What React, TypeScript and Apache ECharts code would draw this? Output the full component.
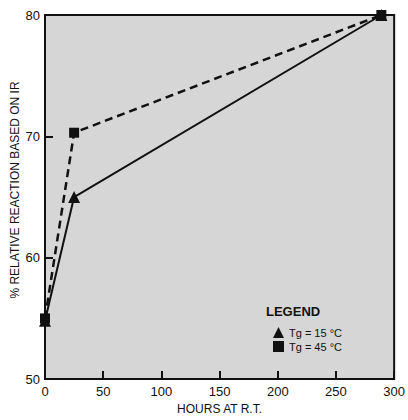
import React, { useEffect, useRef } from "react";
import * as echarts from "echarts";

const xTicks = [0, 50, 100, 150, 200, 250, 300];
const yTicks = [50, 60, 70, 80];
const hoursTg15 = [0, 25, 289];
const reactionTg15 = [54.8, 65, 80];
const hoursTg45 = [0, 25, 289];
const reactionTg45 = [55, 70.3, 80];
const seriesNames = ["Tg = 15 °C", "Tg = 45 °C"];

const FONT = "'Liberation Sans', Arial, sans-serif";

export default function App() {
  const ref = useRef<HTMLDivElement>(null);
  useEffect(() => {
    if (!ref.current) return;
    const chart = echarts.init(ref.current, null, { renderer: "svg" });
    chart.setOption({
      animation: false,
      backgroundColor: "#ffffff",
      textStyle: { fontFamily: FONT },
      grid: {
        left: 45,
        top: 15,
        right: 12,
        bottom: 31,
        show: true,
        backgroundColor: "#d6d6d6",
        borderColor: "#111",
        borderWidth: 2,
      },
      xAxis: {
        type: "value",
        min: xTicks[0],
        max: xTicks[xTicks.length - 1],
        interval: 50,
        name: "HOURS AT R.T.",
        nameLocation: "middle",
        nameGap: 21,
        nameTextStyle: { fontSize: 12, color: "#111", fontFamily: FONT },
        axisLine: { show: true, lineStyle: { color: "#111", width: 2 } },
        axisTick: { show: true, inside: true, length: 8, lineStyle: { color: "#111", width: 2 } },
        axisLabel: { fontSize: 13, color: "#111", margin: 6, fontFamily: FONT },
        splitLine: { show: false },
      },
      yAxis: {
        type: "value",
        min: yTicks[0],
        max: yTicks[yTicks.length - 1],
        interval: 10,
        axisLine: { show: true, lineStyle: { color: "#111", width: 2 } },
        axisTick: { show: true, inside: true, length: 8, lineStyle: { color: "#111", width: 2 } },
        axisLabel: { fontSize: 13, color: "#111", margin: 5, fontFamily: FONT },
        splitLine: { show: false },
      },
      legend: {
        orient: "vertical",
        left: 268,
        top: 322,
        itemWidth: 11,
        itemHeight: 11,
        itemGap: 3,
        textStyle: { fontSize: 11, color: "#111", fontFamily: FONT },
        data: [
          { name: seriesNames[0], icon: "triangle" },
          { name: seriesNames[1], icon: "rect" },
        ],
      },
      graphic: [
        {
          type: "text",
          left: 266,
          top: 305,
          style: { text: "LEGEND", fontSize: 13, fontWeight: "bold", fill: "#111", fontFamily: FONT },
        },
        {
          type: "text",
          x: 15,
          y: 190,
          rotation: Math.PI / 2,
          style: {
            text: "% RELATIVE REACTION BASED ON IR",
            fontSize: 12,
            fill: "#111",
            align: "center",
            verticalAlign: "middle",
            fontFamily: FONT,
          },
        },
      ],
      series: [
        {
          name: seriesNames[0],
          type: "line",
          data: hoursTg15.map((h, i) => [h, reactionTg15[i]]),
          symbol: "triangle",
          symbolSize: 12,
          itemStyle: { color: "#111" },
          lineStyle: { color: "#111", width: 2, type: "solid" },
          z: 3,
        },
        {
          name: seriesNames[1],
          type: "line",
          data: hoursTg45.map((h, i) => [h, reactionTg45[i]]),
          symbol: "rect",
          symbolSize: 10,
          itemStyle: { color: "#111" },
          lineStyle: { color: "#111", width: 2.5, type: [8, 5] },
          z: 4,
        },
      ],
    });
    return () => chart.dispose();
  }, []);
  return (
    <div
      ref={ref}
      style={{ position: "fixed", left: 0, top: 0, width: 408, height: 420 }}
    />
  );
}
